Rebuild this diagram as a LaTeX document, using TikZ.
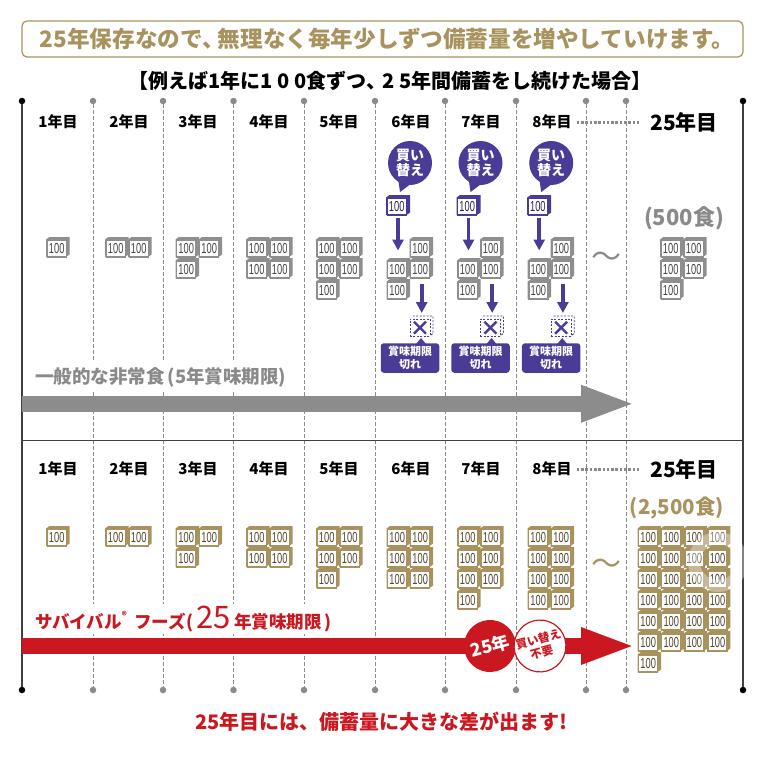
\documentclass[tikz,border=0pt]{standalone}
\usepackage{fontspec}
\setmainfont{Noto Sans CJK JP}
\newfontfamily\numfont[FakeStretch=0.64]{Liberation Sans}
\usetikzlibrary{arrows.meta}
\definecolor{tan}{HTML}{A8935F}
\definecolor{boxgray}{HTML}{8E8E8E}
\definecolor{arrowgray}{HTML}{8C8C8C}
\definecolor{txtgray}{HTML}{8A8A8A}
\definecolor{redc}{HTML}{CB1820}
\definecolor{bluec}{HTML}{4A3C96}
\newcommand{\widedigits}[1]{{\addfontfeature{LetterSpace=24}#1}}
\tikzset{
  foodface/.style={draw=#1,fill=white,line width=1.2pt,inner sep=0pt,minimum width=19pt,minimum height=16.5pt,anchor=north west,text=#1!50!black,font=\numfont\fontsize{14.5}{14.5}\selectfont},
  yearlabel/.style={font=\bfseries\fontsize{15}{15}\selectfont,inner sep=0pt},
  bigyear/.style={font=\bfseries\fontsize{21}{21}\selectfont,inner sep=0pt},
  gridline/.style={draw=txtgray,line width=.8pt,dash pattern=on 4pt off 2pt},
  griddot/.style={circle,fill=txtgray,inner sep=0pt,minimum size=6.5pt},
  framedot/.style={circle,fill=black,inner sep=0pt,minimum size=6.5pt},
  frameline/.style={draw=black!75,line width=1.2pt},
  downarrow/.style={draw=bluec,line width=3.6pt,-{Triangle[length=11pt,width=11pt]}},
  blankout/.style={fill=white,inner sep=0pt},
  dotline/.style={txtgray,line width=3pt,dash pattern=on 2.6pt off 1.7pt},
}
\newcommand{\foodbox}[3]{%
  \fill[#3] ({#1},{#2+2.5}) -- ({#1+3.5},{#2}) -- ({#1+23.5},{#2}) -- ({#1+23.5},{#2+17.5}) -- ({#1+20},{#2+20}) -- ({#1},{#2+20}) -- cycle;
  \node[foodface=#3] at ({#1+.6},{#2+2.9}) {100};}
\begin{document}
\begin{tikzpicture}[x=1pt,y=-1pt]
\useasboundingbox (0,0) rectangle (760,760);
% title
\node[draw=tan,line width=1.2pt,rounded corners=5pt,minimum width=721pt,minimum height=36pt,inner sep=0pt,text=tan,font=\bfseries\fontsize{22.6}{22.6}\selectfont] (title) at (382.5,39) {\kern9pt 25年保存なので、\kern-.3em 無理なく毎年少しずつ備蓄量を増やしていけます。};
\node[font=\bfseries\fontsize{20}{20}\selectfont,inner sep=0pt] (sub) at (390,81) {【例えば\widedigits{1}年に\widedigits{100}食ずつ、\kern-.2em\widedigits{25}年間備蓄をし続けた場合】};
% grid
\foreach \x [count=\n] in {93,163,233.5,304,375,445,516,586,626}{
  \node[griddot] (gt\n) at (\x,101) {};
  \node[griddot] (gb\n) at (\x,690) {};
  \draw[gridline] (gt\n) -- (gb\n);
}
\node[framedot] (ftl) at (22,101) {};
\node[framedot] (fbl) at (22,690) {};
\node[framedot] (ftr) at (743,101) {};
\node[framedot] (fbr) at (743,690) {};
\draw[frameline] (ftl) -- (fbl);
\draw[frameline] (ftr) -- (fbr);
\coordinate (ml) at (22,440);
\coordinate (mr) at (743,440);
\draw[draw=black!75,line width=1pt] (ml) -- (mr);
% year labels
\foreach \x/\t [count=\n] in {58/1,129/2,198/3,269/4,339/5,411/6,481/7,552/8}{
  \node[yearlabel] (ya\n) at (\x,122) {\t 年目};
  \node[yearlabel] (yb\n) at (\x,469) {\t 年目};
}
\node[bigyear] (yaL) at (684,122) {25年目};
\node[bigyear] (ybL) at (684,469) {25年目};
\coordinate (dae) at (639,122);
\coordinate (dbe) at (639,469);
\draw[dotline] ([xshift=5pt]ya8.east) -- (dae);
\draw[dotline] ([xshift=5pt]yb8.east) -- (dbe);
% labels that interrupt the grid
\node[blankout,anchor=west,minimum height=30pt,text=txtgray,font=\bfseries\fontsize{18.5}{18.5}\selectfont] (lgen) at (35,377) {一般的な非常食\kern3pt(5年賞味期限)};
\node[blankout,anchor=west,minimum height=30pt,text=redc,font=\bfseries\fontsize{17.5}{17.5}\selectfont] (lsur) at (35,619) {サバイバル\raisebox{.5em}{\fontsize{10}{10}\selectfont®}\kern7pt フーズ\kern1pt(\kern3pt{\fontsize{31}{31}\mdseries\selectfont 25}\kern3pt 年賞味期限\kern3pt)};
% upper boxes
\foreach \x/\y in {46/237,105/237,128/237,175.5/237,198.5/237,175.5/258,246/237,269/237,246/258,269/258,316/237,339/237,316/258,339/258,316/279,660/237,683/237,660/258,683/258,660/279}{
  \foodbox{\x}{\y}{boxgray}
}
% replacement columns
\foreach \dx [count=\i] in {0,70.5,141.2}{
  \begin{scope}[xshift=\dx pt]
    \foodbox{409.5}{237}{boxgray}
    \foodbox{386.5}{258}{boxgray}
    \foodbox{409.5}{258}{boxgray}
    \foodbox{386.5}{279}{boxgray}
    % speech bubble
    \fill[bluec] (398,178) -- (400,192) -- (416,180) -- cycle;
    \node[circle,fill=bluec,minimum size=44pt,inner sep=0pt,text=white,align=center,font=\bfseries\fontsize{14}{15}\selectfont] (buy\i) at (410,163) {買い\\替え};
    % new box
    \fill[bluec] (386,197.5) -- (389.5,195) -- (410,195) -- (410,212.5) -- (406.5,215) -- (386,215) -- cycle;
    \node[draw=bluec,fill=white,line width=1.2pt,inner sep=0pt,minimum width=19pt,minimum height=16.5pt,anchor=north west,text=bluec!60!black,font=\numfont\fontsize{14.5}{14.5}\selectfont] (new\i) at (386.6,197.9) {100};
    \coordinate (nf\i) at (398,217.5);
    \coordinate (nt\i) at (398,250.5);
    \draw[downarrow] (nf\i) -- (nt\i);
    % expired box
    \draw[bluec,line width=.9pt,dash pattern=on 2pt off 1.5pt] (412.5,316) -- (433,316) -- (433,333.5) -- (429.5,336);
    \node[draw=bluec,line width=.9pt,dash pattern=on 2pt off 1.5pt,fill=white,inner sep=0pt,minimum width=20pt,minimum height=17.5pt,anchor=north west] (gone\i) at (409.5,318.5) {};
    \draw[bluec,line width=2.4pt] (gone\i.center)+(-6,-6) -- +(6,6) (gone\i.center)+(-6,6) -- +(6,-6);
    \coordinate (of\i) at (421.7,284);
    \coordinate (ot\i) at (421.7,313);
    \draw[downarrow] (of\i) -- (ot\i);
    % expiry tag
    \fill[bluec] (416,344) -- (421,338) -- (426,344) -- cycle;
    \node[fill=bluec,rounded corners=3pt,minimum width=58.5pt,minimum height=29.5pt,inner sep=0pt,text=white,align=center,font=\bfseries\fontsize{11}{12.5}\selectfont] (tag\i) at (410,358) {賞味期限\\切れ};
  \end{scope}
}
\node[inner sep=0pt,text=txtgray,font=\fontsize{30}{30}\selectfont] (wa) at (606,260) {〜};
\node[inner sep=0pt,text=txtgray,font=\bfseries\fontsize{22}{22}\selectfont] (qa) at (684,218) {(500食)};
% gray arrow
\coordinate (ga) at (22,403.8);
\coordinate (gb) at (636,403.8);
\draw[draw=arrowgray,line width=16pt,-{Triangle[length=55pt,width=33pt]}] (ga) -- (gb);
% lower boxes
\foreach \x/\y in {46/526,105/526,128/526,175.5/526,198.5/526,175.5/547,246/526,269/526,246/547,269/547,316/526,339/526,316/547,339/547,316/568,
 386.5/526,409.5/526,386.5/547,409.5/547,386.5/568,409.5/568,
 457/526,480/526,457/547,480/547,457/568,480/568,457/589,
 527.5/526,550.5/526,527.5/547,550.5/547,527.5/568,550.5/568,527.5/589,550.5/589,637.5/652}{
  \foodbox{\x}{\y}{tan}
}
\foreach \x in {637.5,660.6,683.7,706.8}{
  \foreach \y in {526,547,568,589,610,631}{
    \foodbox{\x}{\y}{tan}
  }
}
\node[inner sep=0pt,text=tan,font=\fontsize{30}{30}\selectfont] (wb) at (606,567) {〜};
\node[inner sep=0pt,text=tan,font=\bfseries\fontsize{20.5}{20.5}\selectfont] (qb) at (677,508) {(2,500食)};
% red arrow
\coordinate (ra) at (22,646);
\coordinate (rb) at (636,646);
\draw[draw=redc,line width=16pt,-{Triangle[length=55pt,width=33pt]}] (ra) -- (rb);
\node[circle,fill=redc,minimum size=52pt,inner sep=0pt,text=white,rotate=15,font=\bfseries\fontsize{18}{18}\selectfont] (c25) at (490,646) {25年};
\node[circle,draw=redc,line width=1.2pt,fill=white,minimum size=51pt,inner sep=0pt,text=redc,rotate=15,align=center,font=\bfseries\fontsize{11.5}{13}\selectfont] (cno) at (540,646) {買い替え\\不要};
% closing line
\node[inner sep=0pt,text=redc,font=\bfseries\fontsize{20}{20}\selectfont] (end) at (381.5,722) {25年目には、備蓄量に大きな差が出ます!};
% watermark
\draw[white,opacity=.35,line width=12pt] (718,562) circle (24);
\end{tikzpicture}
\end{document}
